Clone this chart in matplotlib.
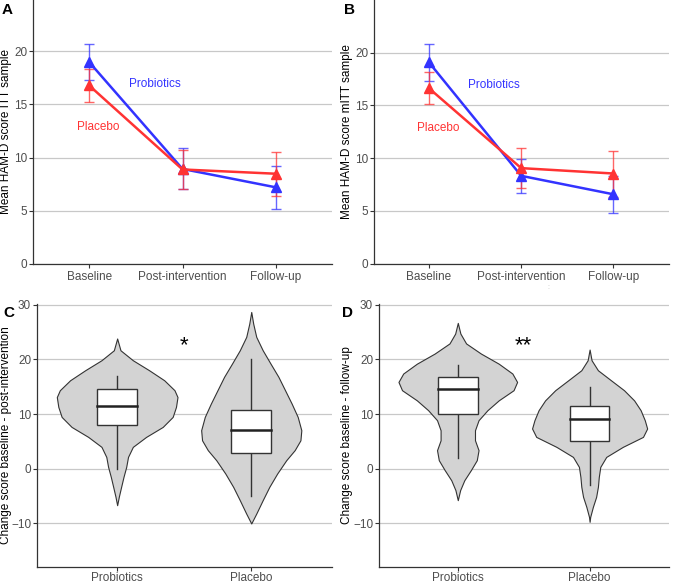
import matplotlib
matplotlib.use("Agg")
import matplotlib.pyplot as plt
import numpy as np

plt.rcParams['font.family'] = ['Liberation Sans', 'DejaVu Sans']

# ---------------- data ----------------
timepoints = ["Baseline", "Post-intervention", "Follow-up"]
groups = ["Probiotics", "Placebo"]

# Panel A (ITT sample): means and error half-widths
itt_pro_mean = [18.98, 8.93, 7.20]
itt_pro_err = [1.68, 1.93, 2.05]
itt_pla_mean = [16.78, 8.88, 8.48]
itt_pla_err = [1.53, 1.83, 2.08]

# Panel B (mITT sample)
mitt_pro_mean = [19.08, 8.33, 6.58]
mitt_pro_err = [1.73, 1.58, 1.73]
mitt_pla_mean = [16.63, 9.06, 8.55]
mitt_pla_err = [1.53, 1.91, 2.18]

# Panel C violin profiles (y value, relative density)
c_pro_y = [23.8, 21.65, 19.83, 18.0, 16.17, 14.35, 13.1, 11.3, 9.47, 7.64, 5.82, 4.0, 2.16, 0.34, -1.49, -3.3, -5.1, -6.66]
c_pro_d = [0, 0.055, 0.26, 0.53, 0.78, 0.95, 1.0, 0.975, 0.92, 0.755, 0.48, 0.26, 0.18, 0.15, 0.105, 0.066, 0.028, 0]
c_pla_y = [28.65, 26.5, 24.1, 21.65, 19.2, 16.8, 14.35, 11.9, 9.47, 7.04, 5.2, 3.4, 1.56, -0.87, -3.3, -5.74, -8.2, -10.0]
c_pla_d = [0, 0.033, 0.083, 0.19, 0.32, 0.45, 0.56, 0.67, 0.77, 0.83, 0.815, 0.72, 0.58, 0.43, 0.30, 0.19, 0.083, 0]
# Panel C box stats: whisker low, Q1, median, Q3, whisker high
c_pro_box = [0.0, 8.0, 11.5, 14.5, 17.0]
c_pla_box = [-5.0, 2.8, 7.0, 10.8, 20.0]

# Panel D violin profiles
d_pro_y = [26.65, 24.7, 22.9, 21.05, 19.2, 17.4, 15.86, 14.35, 12.5, 10.7, 8.87, 7.04, 5.2, 3.39, 1.56, -0.26, -2.1, -3.9, -5.74]
d_pro_d = [0, 0.044, 0.14, 0.39, 0.69, 0.92, 1.0, 0.94, 0.69, 0.5, 0.35, 0.29, 0.29, 0.35, 0.32, 0.22, 0.11, 0.04, 0]
d_pla_y = [21.78, 19.83, 18.0, 16.17, 14.35, 12.5, 10.7, 8.87, 7.35, 5.82, 4.0, 2.16, 0.34, -1.49, -3.3, -5.14, -6.97, -8.8, -9.7]
d_pla_d = [0, 0.033, 0.14, 0.36, 0.58, 0.75, 0.86, 0.93, 0.97, 0.9, 0.56, 0.28, 0.18, 0.155, 0.14, 0.11, 0.055, 0.01, 0]
d_pro_box = [2.0, 10.0, 14.5, 16.8, 19.0]
d_pla_box = [-3.0, 5.1, 9.0, 11.5, 15.0]

# ---------------- style ----------------
BLUE = '#3333FF'
RED = '#FF3333'
GRID = '#C8C8C8'
SPINE = '#333333'
TICKC = '#4D4D4D'
FS = 8.5

W, H = 674, 583
fig = plt.figure(figsize=(W / 100, H / 100), dpi=100)


def add_ax(l, r, t, b):
    return fig.add_axes([l / W, 1 - b / H, (r - l) / W, (b - t) / H])


axA = add_ax(33, 332, 0, 264)
axB = add_ax(373.7, 668.7, 0, 263.7)
axC = add_ax(36.7, 331.7, 304.3, 566.7)
axD = add_ax(378.7, 668.7, 304.3, 566.7)


def style(ax, xpad):
    for s in ['top', 'right']:
        ax.spines[s].set_visible(False)
    for s in ['left', 'bottom']:
        ax.spines[s].set_color(SPINE)
        ax.spines[s].set_linewidth(0.9)
    ax.tick_params(axis='both', colors=SPINE, labelcolor=TICKC, labelsize=FS,
                   length=3, width=0.8, pad=1)
    ax.tick_params(axis='x', pad=xpad)
    ax.yaxis.grid(True, color=GRID, linewidth=0.9)
    ax.set_axisbelow(True)


def line_panel(ax, pro_m, pro_e, pla_m, pla_e, ylab, ytop, labx):
    style(ax, 2)
    x = np.arange(1, len(timepoints) + 1)
    ax.errorbar(x, pro_m, yerr=pro_e, fmt='none', ecolor=BLUE, elinewidth=1.0,
                capsize=3.5, capthick=1.0, alpha=0.75, zorder=3)
    ax.errorbar(x, pla_m, yerr=pla_e, fmt='none', ecolor=RED, elinewidth=1.0,
                capsize=3.5, capthick=1.0, alpha=0.75, zorder=3)
    ax.plot(x, pro_m, color=BLUE, lw=1.8, marker='^', markersize=6.5, zorder=4)
    ax.plot(x, pla_m, color=RED, lw=1.8, marker='^', markersize=6.5, zorder=5)
    ax.set_xlim(0.4, 3.6)
    ax.set_ylim(0, ytop)
    ax.set_yticks([0, 5, 10, 15, 20])
    ax.set_xticks(x)
    ax.set_xticklabels(timepoints)
    ax.set_ylabel(ylab, fontsize=FS, color='black')
    ax.yaxis.set_label_coords(labx, 0.5)
    ax.text(1.70, 16.95, groups[0], color=BLUE, fontsize=FS, ha='center', va='center')
    ax.text(1.10, 12.9, groups[1], color=RED, fontsize=FS, ha='center', va='center')


def violin_panel(ax, profiles, boxes, ylab, star, labx):
    style(ax, 1)
    for i, ((yy, dd), bx) in enumerate(zip(profiles, boxes)):
        pos = i + 1
        yy = np.array(yy)
        dd = np.array(dd) * 0.45
        ax.fill_betweenx(yy, pos - dd, pos + dd, facecolor='#D3D3D3',
                         edgecolor=SPINE, linewidth=0.8, zorder=2)
        lo, q1, med, q3, hi = bx
        ax.plot([pos, pos], [lo, q1], color=SPINE, lw=1.0, zorder=3)
        ax.plot([pos, pos], [q3, hi], color=SPINE, lw=1.0, zorder=3)
        ax.add_patch(plt.Rectangle((pos - 0.15, q1), 0.3, q3 - q1, facecolor='white',
                                   edgecolor=SPINE, linewidth=1.0, zorder=4))
        ax.plot([pos - 0.15, pos + 0.15], [med, med], color='#222222', lw=1.8, zorder=5)
    ax.set_xlim(0.4, 2.6)
    ax.set_ylim(-17.9, 30.05)
    ax.set_yticks([-10, 0, 10, 20, 30])
    ax.set_xticks([1, 2])
    ax.set_xticklabels(groups)
    ax.set_ylabel(ylab, fontsize=FS, color='black')
    ax.yaxis.set_label_coords(labx, 0.5)
    ax.text(1.5, 21.4, star, fontsize=16, ha='center', va='baseline', color='black')


line_panel(axA, itt_pro_mean, itt_pro_err, itt_pla_mean, itt_pla_err,
           "Mean HAM-D score ITT sample", 24.8, -0.070)
line_panel(axB, mitt_pro_mean, mitt_pro_err, mitt_pla_mean, mitt_pla_err,
           "Mean HAM-D score mITT sample", 25.0, -0.071)
violin_panel(axC, [(c_pro_y, c_pro_d), (c_pla_y, c_pla_d)], [c_pro_box, c_pla_box],
             "Change score baseline - post-intervention", "*", -0.084)
violin_panel(axD, [(d_pro_y, d_pro_d), (d_pla_y, d_pla_d)], [d_pro_box, d_pla_box],
             "Change score baseline - follow-up", "**", -0.087)

# panel letters
for lab, (x, y) in zip("ABCD", [(2, 10), (344, 10), (3, 313), (342, 313)]):
    fig.text(x / W, 1 - y / H, lab, fontsize=11, fontweight='bold', ha='left', va='center')

# faint stray mark present in the original figure
fig.text(548 / W, 1 - 288 / H, ":", fontsize=5, color='#BBBBBB', ha='center', va='center')

fig.savefig("out.png", dpi=100)
